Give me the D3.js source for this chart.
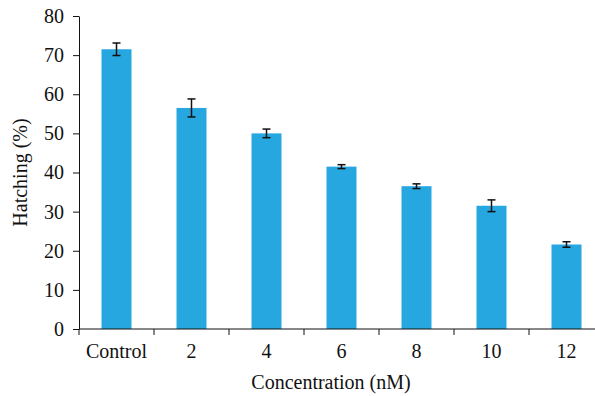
<!DOCTYPE html>
<html>
<head>
<meta charset="utf-8">
<script src="https://cdn.jsdelivr.net/npm/d3@7"></script>
<style>
  body { margin: 0; background: #fff; }
  svg text { font-family: "Liberation Serif", "DejaVu Serif", serif; fill: #111; }
</style>
</head>
<body>
<div id="chart"></div>
<script>
// Data
const categories = ['Control', '2', '4', '6', '8', '10', '12'];
const hatching = [71.5, 56.5, 50.0, 41.5, 36.5, 31.5, 21.6];
const errors = [1.6, 2.3, 1.1, 0.5, 0.6, 1.5, 0.7];
const yTicks = [0, 10, 20, 30, 40, 50, 60, 70, 80];

const width = 595;
const height = 396;
const margin = { top: 16, right: -9, bottom: 67, left: 79 };
const fontSize = 20;

const svg = d3.select('#chart').append('svg')
  .attr('width', width)
  .attr('height', height);

const x = d3.scaleBand()
  .domain(categories)
  .range([margin.left, width - margin.right])
  .paddingInner(0.6)
  .paddingOuter(0.3);

const y = d3.scaleLinear()
  .domain([0, 80])
  .range([height - margin.bottom, margin.top]);

// Bars
svg.append('g')
  .selectAll('rect')
  .data(hatching)
  .join('rect')
  .attr('x', (d, i) => x(categories[i]))
  .attr('y', d => y(d))
  .attr('width', x.bandwidth())
  .attr('height', d => y(0) - y(d))
  .attr('fill', '#27a7df');

// Error bars
const errG = svg.append('g')
  .attr('stroke', '#111')
  .attr('stroke-width', 1.5);

hatching.forEach((d, i) => {
  const cx = x(categories[i]) + x.bandwidth() / 2;
  const hi = y(d + errors[i]);
  const lo = y(d - errors[i]);
  errG.append('line').attr('x1', cx).attr('x2', cx).attr('y1', hi).attr('y2', lo);
  errG.append('line').attr('x1', cx - 4).attr('x2', cx + 4).attr('y1', hi).attr('y2', hi);
  errG.append('line').attr('x1', cx - 4).attr('x2', cx + 4).attr('y1', lo).attr('y2', lo);
});

// Y axis
const yAxis = svg.append('g')
  .attr('transform', `translate(${margin.left},0)`)
  .call(d3.axisLeft(y).tickValues(yTicks).tickSize(6).tickPadding(9).tickSizeOuter(0));
yAxis.selectAll('text').attr('font-size', fontSize);

// X axis with ticks at band edges
const xAxis = svg.append('g')
  .attr('transform', `translate(0,${y(0)})`);
xAxis.append('line')
  .attr('x1', margin.left).attr('x2', width)
  .attr('stroke', '#111');
const step = x.step();
const edges = d3.range(categories.length + 1).map(i => margin.left + i * step);
xAxis.selectAll('.edge')
  .data(edges)
  .join('line')
  .attr('class', 'edge')
  .attr('x1', d => d).attr('x2', d => d)
  .attr('y1', 0).attr('y2', 6)
  .attr('stroke', '#111');
xAxis.selectAll('text')
  .data(categories)
  .join('text')
  .attr('x', d => x(d) + x.bandwidth() / 2)
  .attr('y', 29)
  .attr('text-anchor', 'middle')
  .attr('font-size', fontSize)
  .text(d => d);

svg.selectAll('.domain, .tick line').attr('stroke', '#111');

// Axis titles
svg.append('text')
  .attr('x', 331)
  .attr('y', 389)
  .attr('text-anchor', 'middle')
  .attr('font-size', fontSize)
  .text('Concentration (nM)');

svg.append('text')
  .attr('transform', `translate(27,${(y(0) + y(80)) / 2}) rotate(-90)`)
  .attr('text-anchor', 'middle')
  .attr('font-size', fontSize)
  .text('Hatching (%)');
</script>
</body>
</html>
